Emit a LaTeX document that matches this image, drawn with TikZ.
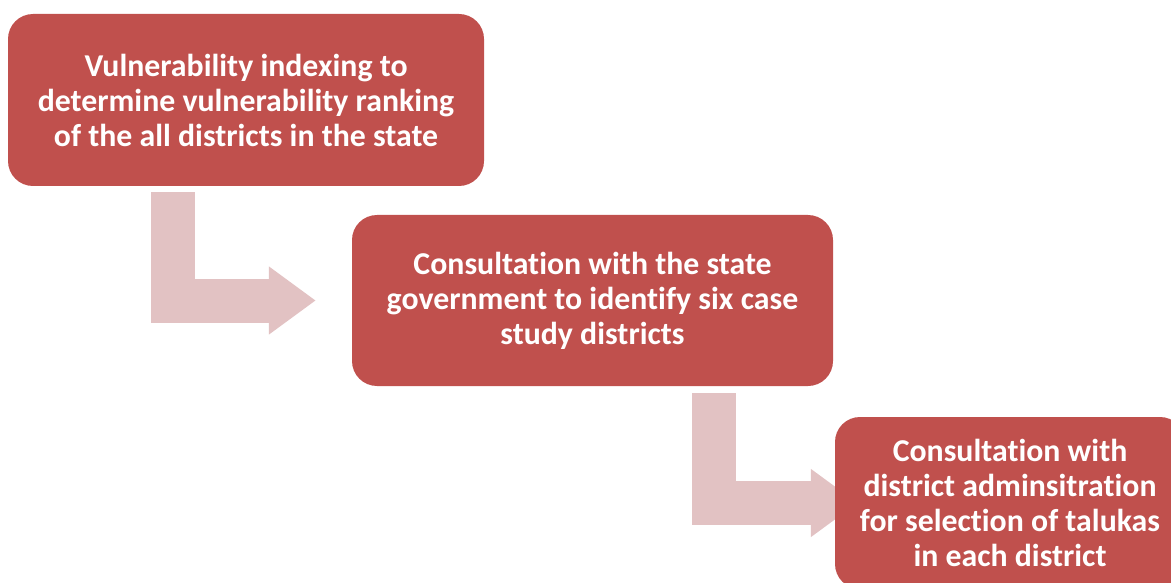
\documentclass[tikz,border=0pt]{standalone}
\usepackage{fontspec}
\setmainfont{Carlito}[Ligatures=NoCommon]
\usepackage{tikz}
\usetikzlibrary{arrows.meta, positioning, backgrounds, calc}
\usepackage{xcolor}
\definecolor{stepred}{RGB}{192, 80, 77}
\definecolor{arrowpink}{RGB}{226, 194, 195}
\tikzset{
  stepbox/.style  = {rectangle, rounded corners=25pt, fill=stepred, text=white, inner sep=0pt, align=center, font=\fontsize{31.8}{35}\selectfont\bfseries},
  bentflow/.style = {arrowpink, line width=44pt, line join=miter, -{Triangle[length=47pt, width=65pt]}},
}

\begin{document}
\begin{tikzpicture}[x=1pt, y=-1pt]

\clip (0,0) rectangle (1171,583);
\useasboundingbox (0,0) rectangle (1171,583);

% ===== 三个步骤 =====
\node[stepbox, minimum width=476pt, minimum height=172pt] (rank) at (246,100)
  {Vulnerability indexing to\\determine vulnerability ranking\\of the all districts in the state};
\node[stepbox, minimum width=481pt, minimum height=171pt] (state) at (592.5,300.5)
  {Consultation with the state\\government to identify six case\\study districts};
\node[stepbox, minimum width=350pt, minimum height=172pt] (taluka) at (1010,503)
  {Consultation with\\district adminsitration\\for selection of talukas\\in each district};

% ===== 折线箭头 =====
\begin{scope}[on background layer]
  \coordinate (a1) at ($(rank.south west)+(165,6)$);
  \draw[bentflow, shorten >=36pt] (a1) |- (state.west);
  \coordinate (a2) at ($(state.south west)+(362.5,7)$);
  \draw[bentflow, shorten >=-23pt] (a2) |- (taluka.west);
\end{scope}

\end{tikzpicture}
\end{document}
